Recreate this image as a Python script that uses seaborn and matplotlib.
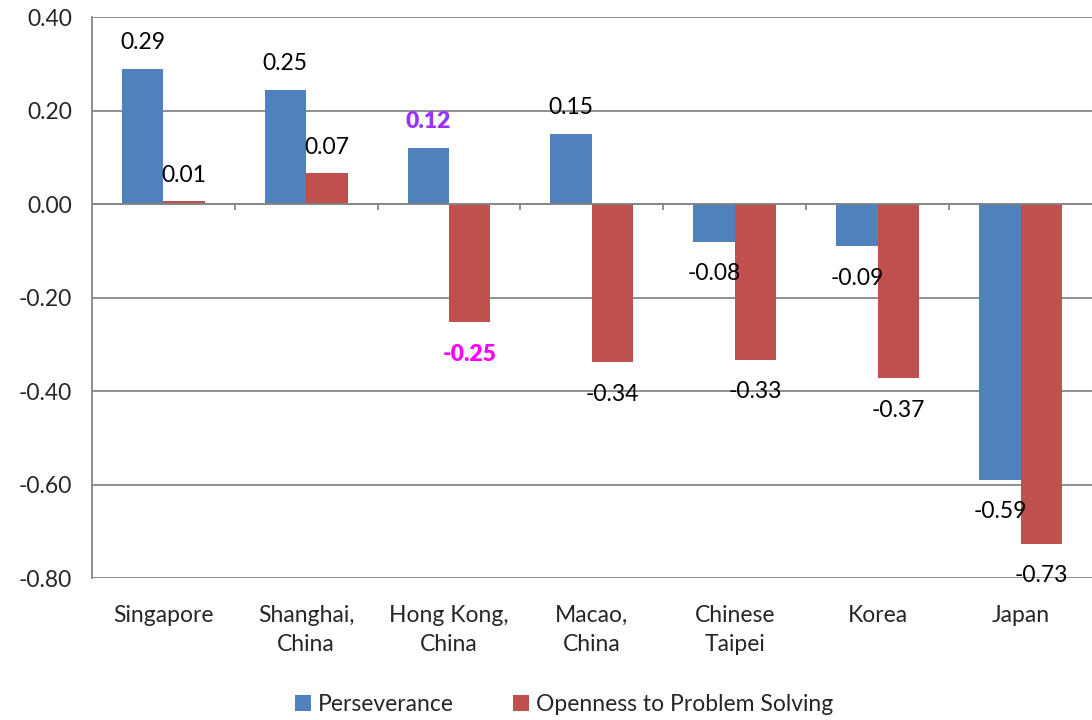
import numpy as np
import pandas as pd
import seaborn as sns
import matplotlib.pyplot as plt

countries = ["Singapore", "Shanghai,\nChina", "Hong Kong,\nChina", "Macao,\nChina",
             "Chinese\nTaipei", "Korea", "Japan"]
perseverance = [0.29, 0.245, 0.12, 0.15, -0.08, -0.09, -0.59]
openness = [0.006, 0.066, -0.253, -0.338, -0.333, -0.372, -0.727]
perseverance_lbl = ["0.29", "0.25", "0.12", "0.15", "-0.08", "-0.09", "-0.59"]
openness_lbl = ["0.01", "0.07", "-0.25", "-0.34", "-0.33", "-0.37", "-0.73"]
series = ["Perseverance", "Openness to Problem Solving"]
colors = ["#4F81BD", "#C0504D"]
yticks = [-0.8, -0.6, -0.4, -0.2, 0.0, 0.2, 0.4]
ytick_lbl = ["-0.80", "-0.60", "-0.40", "-0.20", "0.00", "0.20", "0.40"]

df = pd.DataFrame({
    "country": countries * 2,
    "value": perseverance + openness,
    "series": [series[0]] * len(countries) + [series[1]] * len(countries),
})

sns.set_style("white")
plt.rcParams["font.family"] = ["Lato", "DejaVu Sans"]
FS = 16.5

fig = plt.figure(figsize=(10.92, 7.2), dpi=100)
ax = fig.add_axes([0.084, 0.197, 0.916, 0.779])

sns.barplot(data=df, x="country", y="value", hue="series", hue_order=series,
            palette=colors, width=0.58, gap=0, saturation=1, ax=ax,
            edgecolor="none", zorder=3)

ax.set_ylim(-0.8, 0.4)
ax.set_xlim(-0.5, len(countries) - 0.5)
ax.set_yticks(yticks)
ax.set_yticklabels(ytick_lbl, fontsize=FS)
ax.set_xticks(range(len(countries)))
ax.set_xticklabels(countries, fontsize=FS, linespacing=1.5)
ax.grid(axis="y", color="#868686", linewidth=1.3, zorder=0)
ax.set_axisbelow(True)
ax.tick_params(axis="y", length=6, width=1.3, color="#868686", direction="out", pad=8)
ax.tick_params(axis="x", length=0, pad=19)
for s in ["top", "right", "bottom"]:
    ax.spines[s].set_visible(False)
ax.spines["left"].set_color("#868686")
ax.spines["left"].set_linewidth(1.3)
ax.axhline(0, color="#868686", linewidth=1.3, zorder=4)
ax.vlines(np.arange(len(countries) - 1) + 0.5, -0.013, 0, color="#868686",
          linewidth=1.3, zorder=4, clip_on=False)
ax.set_xlabel("")
ax.set_ylabel("")

special = {(2, 0): ("#9933FF", "heavy"), (2, 1): ("#FF00FF", "heavy")}
for j, (cont, lbls) in enumerate(zip(ax.containers, [perseverance_lbl, openness_lbl])):
    for i, (bar, lbl) in enumerate(zip(cont, lbls)):
        v = bar.get_height()
        x = bar.get_x() + bar.get_width() / 2
        off = 19 if v >= 0 else -23
        color, weight = special.get((i, j), ("black", "normal"))
        ax.annotate(lbl, (x, v), xytext=(0, off), textcoords="offset points",
                    ha="center", va="center", fontsize=FS, color=color,
                    fontweight=weight, zorder=5, annotation_clip=False)

ax.legend(loc="center", bbox_to_anchor=(0.472, -0.225), ncol=2, frameon=False,
          fontsize=FS, handlelength=0.7, handleheight=0.7, handletextpad=0.3,
          columnspacing=2.6)

fig.savefig("out.png", dpi=100)
